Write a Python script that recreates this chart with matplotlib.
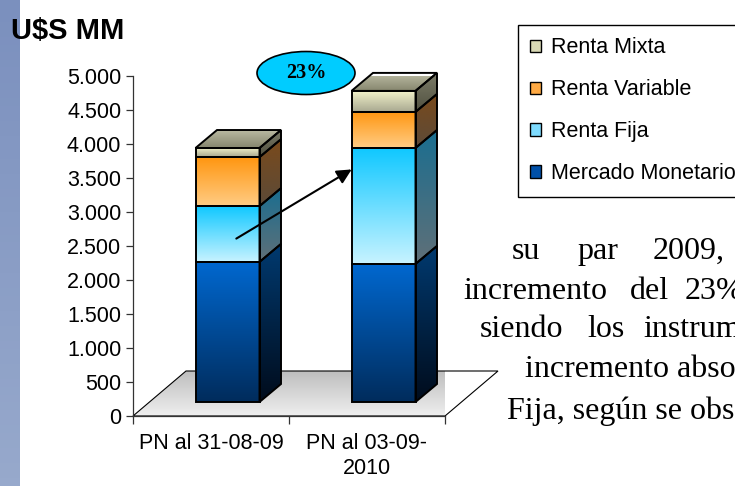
import numpy as np
import matplotlib
matplotlib.use("Agg")
import matplotlib.pyplot as plt
from matplotlib.patches import Polygon, Ellipse, Patch
from matplotlib.colors import to_rgb

plt.rcParams["font.family"] = ["Liberation Sans", "DejaVu Sans"]

# ---- data (U$S MM) ----
categories = ["PN al 31-08-09", "PN al 03-09-\n2010"]
mercado_monetario = [2060, 2030]
renta_fija = [820, 1705]
renta_variable = [720, 530]
renta_mixta = [135, 310]
series_names = ["Mercado Monetario", "Renta Fija", "Renta Variable", "Renta Mixta"]
y_ticks = [0, 500, 1000, 1500, 2000, 2500, 3000, 3500, 4000, 4500, 5000]
growth_label = "23%"

# ---- styles: (front top, front bottom, side top, side bottom, legend) ----
face_colors = {
    "Mercado Monetario": ("#0068d0", "#002c5c", "#003a70", "#000c1c", "#0050a8"),
    "Renta Fija": ("#10c8ff", "#c8f3ff", "#1a6e90", "#607078", "#7fdcff"),
    "Renta Variable": ("#ff9610", "#ffcc84", "#7a4a1c", "#5c4a38", "#ffaa44"),
    "Renta Mixta": ("#f4f4cc", "#a8a890", "#7c7c68", "#505040", "#d8d8b4"),
}
top_colors = ("#bcbca4", "#86866e")

W, H = 735, 486
AX_L, AX_T, AX_R, AX_B = 133, 76, 445, 416

fig = plt.figure(figsize=(W / 100, H / 100), dpi=100)

# left decorative strip
sax = fig.add_axes([0, 0, 20 / W, 1])
strip = np.linspace(0, 1, 64)[:, None, None]
c0, c1 = np.array(to_rgb("#7b90be")), np.array(to_rgb("#97a9cc"))
sax.imshow(c0 * (1 - strip) + c1 * strip, aspect="auto", extent=(0, 1, 0, 1))
sax.axis("off")

ax = fig.add_axes([AX_L / W, 1 - AX_B / H, (AX_R - AX_L) / W, (AX_B - AX_T) / H])
ax.set_xlim(0, 2)
ax.set_ylim(0, 5000)

ux = 2 / (AX_R - AX_L)      # x data units per pixel
uy = 5000 / (AX_B - AX_T)   # y data units per pixel


def grad_face(verts, c_top, c_bot, z, lw=1.4):
    verts = np.asarray(verts, dtype=float)
    poly = Polygon(verts, closed=True, facecolor="none", edgecolor="black",
                   lw=lw, zorder=z + 0.5, clip_on=False, joinstyle="miter")
    ax.add_patch(poly)
    t = np.linspace(0, 1, 128)[:, None, None]
    img = np.array(to_rgb(c_top)) * (1 - t) + np.array(to_rgb(c_bot)) * t
    x0, y0 = verts.min(0)
    x1, y1 = verts.max(0)
    ax.imshow(img, extent=(x0, x1, y0, y1), origin="upper", aspect="auto",
              interpolation="bilinear", zorder=z, clip_path=poly)


# floor
fdx, fdy = 53 * ux, 45 * uy
grad_face([(0, 0), (2, 0), (2 + fdx, fdy), (fdx, fdy)], "#bdbdbd", "#efefef", 1, lw=0.8)

# bars
off_x, off_y = 16.5 * ux, 14 * uy
dep_x, dep_y = 21.5 * ux, 18 * uy
hw = 32 * ux
stack = [mercado_monetario, renta_fija, renta_variable, renta_mixta]
for i, c in enumerate([0.5, 1.5]):
    xl, xr = c + off_x - hw, c + off_x + hw
    base = 0
    for name, vals in zip(series_names, stack):
        b, t = off_y + base, off_y + base + vals[i]
        ft, fb, st, sb, _ = face_colors[name]
        grad_face([(xl, b), (xr, b), (xr, t), (xl, t)], ft, fb, 3)
        grad_face([(xr, b), (xr + dep_x, b + dep_y), (xr + dep_x, t + dep_y), (xr, t)], st, sb, 3)
        base += vals[i]
    T = off_y + base
    grad_face([(xl, T), (xr, T), (xr + dep_x, T + dep_y), (xl + dep_x, T + dep_y)],
              top_colors[0], top_colors[1], 3)

# arrow and growth bubble
ax.annotate("", xy=(1.417, 3647), xytext=(0.647, 2588),
            arrowprops=dict(arrowstyle="-|>", color="black", lw=1.5, mutation_scale=22),
            annotation_clip=False, zorder=10)
ax.add_patch(Ellipse((1.109, 5044), 98 * ux, 43 * uy, facecolor="#00ccff",
                     edgecolor="black", lw=1.2, clip_on=False, zorder=11))
ax.text(1.109, 5044, growth_label, ha="center", va="center", fontsize=14.5,
        fontweight="bold", family="Liberation Serif", zorder=12, clip_on=False)

# axes styling
for s in ["top", "right"]:
    ax.spines[s].set_visible(False)
for s in ["left", "bottom"]:
    ax.spines[s].set_linewidth(0.9)
    ax.spines[s].set_color("#333333")
ax.set_yticks(y_ticks)
ax.set_yticklabels([f"{v:,}".replace(",", ".") for v in y_ticks])
ax.tick_params(axis="y", direction="out", length=5, width=0.9, pad=3.5,
               labelsize=15.5, color="#333333")
ax.set_xticks([0, 1, 2])
ax.set_xticklabels([])
ax.set_xticks([0.5, 1.5], minor=True)
ax.set_xticklabels(categories, minor=True, fontsize=15.5, linespacing=1.25)
ax.tick_params(axis="x", which="major", direction="out", length=6, width=0.9, color="#333333")
ax.tick_params(axis="x", which="minor", length=0, pad=12)
ax.set_xlim(0, 2)
ax.set_ylim(0, 5000)

fig.text(11 / W, 1 - 39 / H, r"U\$S MM", fontsize=21, fontweight="bold", va="baseline")

# legend
handles = [Patch(facecolor=face_colors[n][4], edgecolor="black", lw=1) for n in reversed(series_names)]
leg = fig.legend(handles, list(reversed(series_names)), loc="upper left",
                 bbox_to_anchor=(518 / W, 1 - 25 / H), bbox_transform=fig.transFigure,
                 fancybox=False, edgecolor="black", framealpha=1, borderpad=0.58,
                 labelspacing=0.97, handlelength=0.5, handleheight=0.5,
                 handletextpad=0.45, borderaxespad=0, fontsize=15.5)
leg.get_frame().set_linewidth(1.0)

# surrounding document text (clipped at the page edge)
tax = fig.add_axes([440 / W, 0, (W - 440) / W, 1])
tax.axis("off")
words = [
    ("su", 512, 259), ("par", 577, 259), ("2009,", 653, 259),
    ("incremento", 463, 299), ("del", 630, 299), ("23%", 685, 299),
    ("siendo", 480, 337), ("los", 587, 337), ("instrumentos", 643, 337),
    ("incremento absoluto", 525, 377),
    ("Fija, según se observa", 507, 419),
]
for w, x, y in words:
    tax.text(x / W, 1 - y / H, w, transform=fig.transFigure, fontsize=23,
             family="Liberation Serif", va="baseline", ha="left", clip_on=True)

fig.savefig("out.png", dpi=100)
